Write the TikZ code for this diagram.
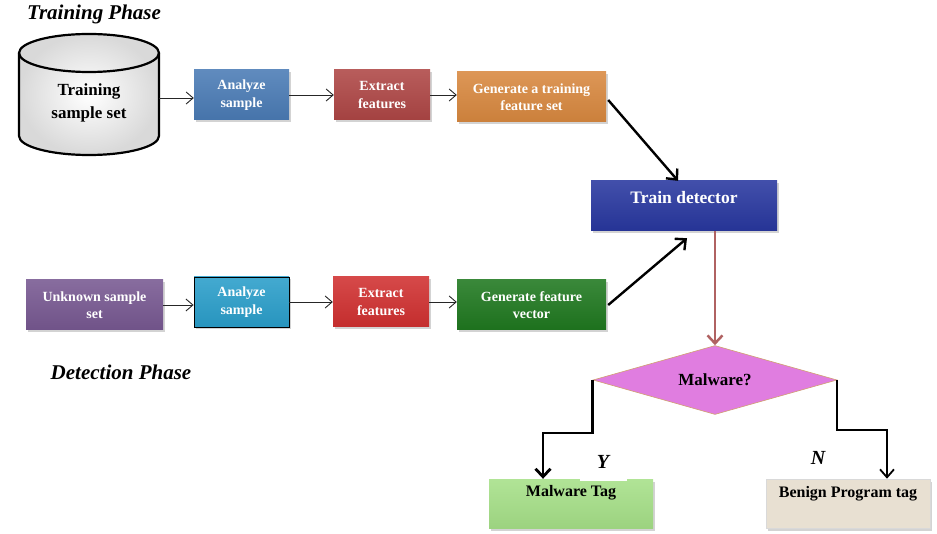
\documentclass[tikz,border=0pt]{standalone}
\usepackage{fontspec}
\setmainfont{Liberation Serif}
\usetikzlibrary{shapes.geometric,arrows.meta,shadows}
\definecolor{cAnaA}{HTML}{4A7BB5}
\definecolor{cExtA}{HTML}{AE4645}
\definecolor{cGenA}{HTML}{D8883F}
\definecolor{cTrain}{HTML}{28379F}
\definecolor{cUnk}{HTML}{775891}
\definecolor{cAnaB}{HTML}{2A9ECA}
\definecolor{cExtB}{HTML}{D03030}
\definecolor{cGenB}{HTML}{1F781F}
\definecolor{cDia}{HTML}{E07DE0}
\definecolor{cDiaB}{HTML}{D0A070}
\definecolor{cMal}{HTML}{A6E088}
\definecolor{cBen}{HTML}{E8E0D2}
\definecolor{cPink}{HTML}{B06262}
\begin{document}
\begin{tikzpicture}[x=1pt,y=-1pt,
  box/.style={rectangle, inner sep=2pt, align=center, text=white,
    font=\fontsize{14}{17.5}\selectfont\bfseries, minimum height=50pt,
    top color=#1!88!white, middle color=#1, bottom color=#1!94!black,
    drop shadow={shadow xshift=1.5pt, shadow yshift=-2.5pt, opacity=0.35, fill=gray}},
  lbl/.style={font=\fontsize{16}{19}\selectfont\bfseries, align=center, inner sep=0pt},
  phase/.style={font=\fontsize{21}{24}\selectfont\bfseries\itshape, inner sep=0pt},
  yn/.style={font=\fontsize{20}{22}\selectfont\bfseries\itshape},
  tarrow/.style={draw=black!85, line width=0.9pt, -{Straight Barb[length=7pt,width=12pt,line width=0.9pt]}},
  karrow/.style={draw=black, line width=2.4pt, -{Straight Barb[length=8pt,width=15pt]}}
]
\useasboundingbox (0,0) rectangle (937,534);

% titles
\node[phase] (tp) at (94,14) {Training Phase};
\node[phase] (dp) at (121,372) {Detection Phase};

% cylinder
\shade[inner color=white, outer color=gray!30]
  (19,53) -- (19,136) arc[start angle=180, end angle=360, x radius=70pt, y radius=19pt] -- (159,53)
  arc[start angle=0, end angle=180, x radius=70pt, y radius=19pt] -- cycle;
\draw[line width=2.2pt]
  (19,53) -- (19,136) arc[start angle=180, end angle=360, x radius=70pt, y radius=19pt] -- (159,53);
\draw[line width=2.2pt] (89,53) ellipse[x radius=70pt, y radius=19pt];
\node[lbl, font=\fontsize{17}{23}\selectfont\bfseries] (cyl) at (89,103) {Training\\sample set};
\coordinate (cylr) at (159,98);

% training row
\node[box=cAnaA, minimum width=95pt] (a1) at (241.5,95) {Analyze\\sample};
\node[box=cExtA, minimum width=96pt] (e1) at (382,95) {Extract\\features};
\node[box=cGenA, minimum width=149pt] (g1) at (531.5,97) {Generate a training\\feature set};

% train detector
\node[box=cTrain, minimum width=186pt] (td) at (684,206) {};
\node[lbl, text=white, font=\fontsize{17.5}{20}\selectfont\bfseries] (tdt) at (684,198) {Train detector};

% detection row
\node[box=cUnk, minimum width=137pt] (u) at (94.5,305) {Unknown sample\\set};
\node[box=cAnaB, minimum width=95pt, draw=black, line width=0.8pt] (a2) at (241.5,302) {Analyze\\sample};
\node[box=cExtB, minimum width=96pt] (e2) at (381,302) {Extract\\features};
\node[box=cGenB, minimum width=149pt] (g2) at (531.5,305) {Generate feature\\vector};

% decision
\node[diamond, shape aspect=3.5, fill=cDia, draw=cDiaB, line width=0.6pt, inner sep=0pt,
  minimum width=244pt, minimum height=69pt,
  font=\fontsize{17}{19}\selectfont\bfseries] (dia) at (715,380) {Malware?};

% results
\node[box=cMal, minimum width=164pt, minimum height=49pt] (mt) at (571,503.5) {};
\node[lbl] (mtt) at (571,493) {Malware Tag};
\node[rectangle, minimum width=164pt, minimum height=49pt, fill=cBen, draw=white!85!black, line width=0.6pt,
  drop shadow={shadow xshift=1.5pt, shadow yshift=-2.5pt, opacity=0.35, fill=gray}] (bp) at (848,503.5) {};
\node[lbl] (bpt) at (848,494) {Benign Program tag};

% connectors
\draw[tarrow] (cylr) -- (cylr -| a1.west);
\draw[tarrow] (a1.east) -- (e1.west);
\draw[tarrow] (e1.east) -- (e1.east -| g1.west);
\draw[tarrow] (u.east) -- (u.east -| a2.west);
\draw[tarrow] (a2.east) -- (e2.west);
\draw[tarrow] (e2.east) -- (e2.east -| g2.west);

\draw[karrow] ([shift={(2,3)}]g1.east) -- ([xshift=-6pt]td.north);
\draw[karrow] ([xshift=2pt]g2.east) -- ([shift={(3,7)}]td.south);

\draw[draw=cPink, line width=2.5pt, -{Straight Barb[length=8pt,width=15pt]}]
  (dia.north |- td.south) -- (dia.north);

\draw[draw=black, line width=2.8pt, -{Straight Barb[length=8pt,width=15pt]}]
  (dia.west) -- ++(0,53) -| ([xshift=-28pt]mt.north);
\draw[draw=black, line width=1.8pt, -{Straight Barb[length=8pt,width=14pt]}]
  (dia.east) -- ++(0,50) -| ([xshift=39pt]bp.north);

\node[yn, fill=white, minimum width=47pt, minimum height=38pt, inner sep=0pt] (ylab) at (603,462) {Y};
\node[yn, inner sep=0pt] (nlab) at (818,458) {N};
\end{tikzpicture}
\end{document}
